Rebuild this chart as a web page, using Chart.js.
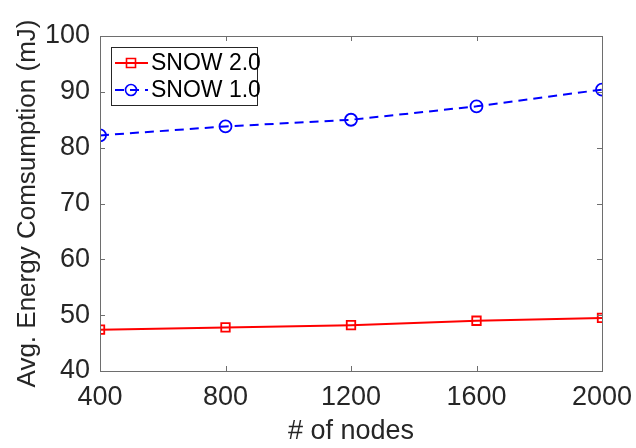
<!DOCTYPE html>
<html>
<head>
<meta charset="utf-8">
<script src="https://cdn.jsdelivr.net/npm/chart.js@4.4.1/dist/chart.umd.min.js"></script>
<style>
html,body{margin:0;padding:0;background:#fff;}
#wrap{width:636px;height:448px;}
</style>
</head>
<body>
<div id="wrap"><canvas id="c" width="636" height="448"></canvas></div>
<script>
const nodes = [400, 800, 1200, 1600, 2000];
const snow2 = [47.4, 47.8, 48.2, 49.0, 49.5];
const snow1 = [82.2, 83.8, 85.0, 87.4, 90.4];
const xTicks = [400, 800, 1200, 1600, 2000];
const yTicks = [40, 50, 60, 70, 80, 90, 100];

const FONT = "'Liberation Sans', Arial, Helvetica, sans-serif";
const TXT = '#262626';
const AX = '#6e6e6e';

const boxPlugin = {
  id: 'box',
  afterDatasetsDraw(chart) {
    const {ctx, chartArea: a, scales} = chart;
    ctx.save();
    ctx.strokeStyle = AX;
    ctx.lineWidth = 1;
    ctx.strokeRect(Math.round(a.left)+0.5, Math.round(a.top)+0.5, Math.round(a.right-a.left), Math.round(a.bottom-a.top));
    const L = 5;
    ctx.beginPath();
    xTicks.forEach(v => {
      const x = Math.round(scales.x.getPixelForValue(v)) + 0.5;
      ctx.moveTo(x, a.bottom); ctx.lineTo(x, a.bottom - L);
      ctx.moveTo(x, a.top); ctx.lineTo(x, a.top + L);
    });
    yTicks.forEach(v => {
      const y = Math.round(scales.y.getPixelForValue(v)) + 0.5;
      ctx.moveTo(a.left, y); ctx.lineTo(a.left + L, y);
      ctx.moveTo(a.right, y); ctx.lineTo(a.right - L, y);
    });
    ctx.stroke();

    // legend
    const lx = a.left + 11, ly = a.top + 11, lw = 146, lh = 58;
    ctx.fillStyle = '#fff';
    ctx.fillRect(lx, ly, lw, lh);
    ctx.strokeStyle = '#262626';
    ctx.lineWidth = 1;
    ctx.strokeRect(lx + 0.5, ly + 0.5, lw, lh);
    ctx.font = '23px ' + FONT;
    ctx.textBaseline = 'middle';
    ctx.textAlign = 'left';
    chart.data.datasets.forEach((ds, i) => {
      const cy = ly + 16 + i * 27;
      ctx.strokeStyle = ds.borderColor;
      ctx.lineWidth = 2;
      ctx.setLineDash(ds.borderDash || []);
      ctx.beginPath(); ctx.moveTo(lx + 4, cy); ctx.lineTo(lx + 37, cy); ctx.stroke();
      ctx.setLineDash([]);
      ctx.lineWidth = 1.6;
      const mx = lx + 20;
      ctx.beginPath();
      if (ds.pointStyle === 'rect') {
        ctx.rect(mx - 4.5, cy - 4.5, 9, 9);
      } else {
        ctx.arc(mx, cy, 5.5, 0, Math.PI * 2);
      }
      ctx.stroke();
      ctx.fillStyle = '#000';
      ctx.fillText(ds.label, lx + 40, cy + 1);
    });
    ctx.restore();
  }
};

new Chart(document.getElementById('c'), {
  type: 'line',
  data: {
    datasets: [
      {
        label: 'SNOW 2.0',
        data: nodes.map((x, i) => ({x, y: snow2[i]})),
        borderColor: '#ff0000',
        backgroundColor: 'rgba(0,0,0,0)',
        borderWidth: 2,
        pointStyle: 'rect',
        pointRadius: 6,
        pointBorderWidth: 1.8,
        pointBorderColor: '#ff0000',
        pointBackgroundColor: 'rgba(0,0,0,0)',
        tension: 0
      },
      {
        label: 'SNOW 1.0',
        data: nodes.map((x, i) => ({x, y: snow1[i]})),
        borderColor: '#0000ff',
        backgroundColor: 'rgba(0,0,0,0)',
        borderWidth: 2,
        borderDash: [9, 6],
        pointStyle: 'circle',
        pointRadius: 6,
        pointBorderWidth: 1.8,
        pointBorderColor: '#0000ff',
        pointBackgroundColor: 'rgba(0,0,0,0)',
        tension: 0
      }
    ]
  },
  options: {
    responsive: false,
    animation: false,
    devicePixelRatio: 1,
    layout: {padding: {top: 36, right: 34, left: 0, bottom: 0}},
    plugins: {legend: {display: false}, tooltip: {enabled: false}},
    scales: {
      x: {
        type: 'linear',
        min: 400, max: 2000,
        afterBuildTicks: s => { s.ticks = xTicks.map(v => ({value: v})); },
        afterFit: s => { s.height = 77; s.paddingRight = 0; },
        grid: {display: false, drawTicks: false},
        border: {display: false},
        ticks: {color: TXT, font: {family: FONT, size: 27}, padding: 10, maxRotation: 0, autoSkip: false,
                callback: v => String(v)},
        title: {display: true, text: '# of nodes', color: TXT, font: {family: FONT, size: 27}, padding: {top: 0, bottom: 0}}
      },
      y: {
        type: 'linear',
        min: 40, max: 100,
        afterBuildTicks: s => { s.ticks = yTicks.map(v => ({value: v})); },
        afterFit: s => { s.width = 100; },
        grid: {display: false, drawTicks: false},
        border: {display: false},
        ticks: {color: TXT, font: {family: FONT, size: 27}, padding: 10, autoSkip: false,
                callback: v => String(v)},
        title: {display: true, text: 'Avg. Energy Comsumption (mJ)', color: TXT, font: {family: FONT, size: 26}, padding: {top: 12, bottom: 0}}
      }
    }
  },
  plugins: [boxPlugin]
});
</script>
</body>
</html>
